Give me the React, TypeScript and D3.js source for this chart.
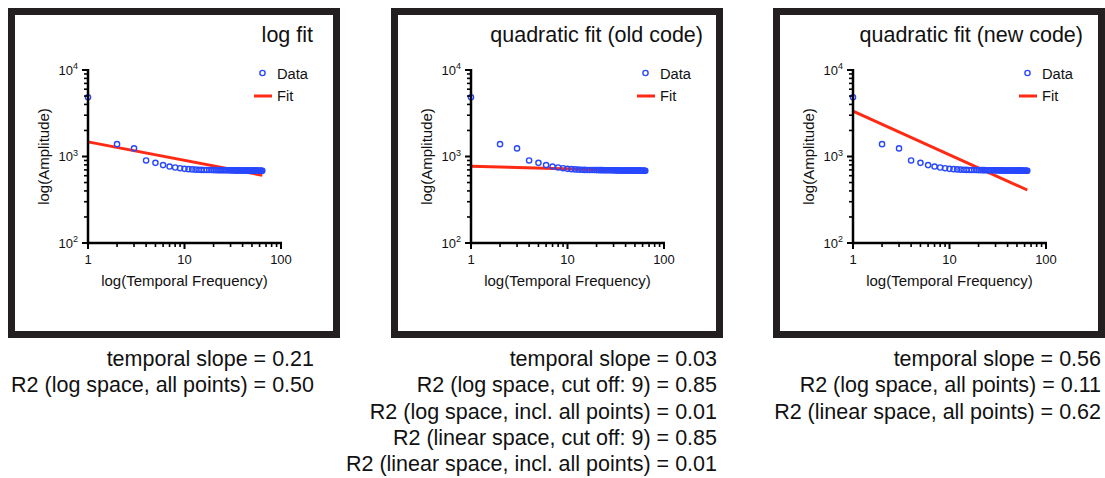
import React from "react";
import * as d3 from "d3";

const frequencies = [
  1, 2, 3, 4, 5, 6, 7, 8, 9, 10, 11, 12, 13, 14, 15, 16, 17, 18, 19, 20, 21, 22, 23, 24, 25, 26, 27, 28, 29, 30, 31, 32,
  33, 34, 35, 36, 37, 38, 39, 40, 41, 42, 43, 44, 45, 46, 47, 48, 49, 50, 51, 52, 53, 54, 55, 56, 57, 58, 59, 60, 61, 62, 63, 64,
];
const amplitudes = [
  4850, 1390, 1240, 900, 845, 795, 765, 746, 732, 720,
  714, 709, 705, 702, 700, 699, 698, 697, 697, 696,
  696, 695, 695, 694, 694, 694, 693, 693, 693, 692,
  692, 692, 691, 691, 691, 690, 690, 690, 690, 689,
  689, 689, 689, 688, 688, 688, 688, 687, 687, 687,
  687, 686, 686, 686, 686, 686, 685, 685, 685, 685,
  685, 684, 684, 684,
];

const panelTitles = ["log fit", "quadratic fit (old code)", "quadratic fit (new code)"];
const fitStartFreq = [1, 1, 1];
const fitEndFreq = [64, 64, 64];
const fitStartAmp = [1476, 773, 3350];
const fitEndAmp = [607, 682, 410];

const statsText = [
  ["temporal slope = 0.21", "R2 (log space, all points) = 0.50"],
  [
    "temporal slope = 0.03",
    "R2 (log space, cut off: 9) = 0.85",
    "R2 (log space, incl. all points) = 0.01",
    "R2 (linear space, cut off: 9) = 0.85",
    "R2 (linear space, incl. all points) = 0.01",
  ],
  [
    "temporal slope = 0.56",
    "R2 (log space, all points) = 0.11",
    "R2 (linear space, all points) = 0.62",
  ],
];

const xMajorTicks = [1, 10, 100];
const xMinorTicks = [2, 3, 4, 5, 6, 7, 8, 9, 20, 30, 40, 50, 60, 70, 80, 90];
const yMajorTicks = [100, 1000, 10000];
const yMinorTicks = [200, 300, 400, 500, 600, 700, 800, 900, 2000, 3000, 4000, 5000, 6000, 7000, 8000, 9000];
const yTickExponents = ["2", "3", "4"];
const xTickLabels = ["1", "10", "100"];
const legendLabels = ["Data", "Fit"];

const W = 1105;
const H = 478;
const FONT = "'Liberation Sans', Arial, Helvetica, sans-serif";
const BLUE = "#2848ff";
const RED = "#ff2a14";
const FRAME = "#231f20";

const panelLeft = [8, 391, 773];
const titleRight = [313, 703, 1083];
const statsRight = [314, 717, 1101];

function Panel({ idx }: { idx: number }) {
  const fx = panelLeft[idx];
  const axisX = fx + 80;
  const x = d3.scaleLog().domain([1, 100]).range([axisX, axisX + 193]);
  const y = d3.scaleLog().domain([100, 10000]).range([243, 70]);
  const fitData: [number, number][] = [
    [fitStartFreq[idx], fitStartAmp[idx]],
    [fitEndFreq[idx], fitEndAmp[idx]],
  ];
  const line = d3
    .line<[number, number]>()
    .x((d) => x(d[0]))
    .y((d) => y(d[1]));
  const y0 = y(100);
  const x0 = x(1);
  return (
    <g>
      <rect x={fx + 3.5} y={8 + 3.5} width={325} height={323} fill="#fff" stroke={FRAME} strokeWidth={7} />
      <text x={titleRight[idx]} y={42} textAnchor="end" fontSize={21.5} fontFamily={FONT} fill="#111">
        {panelTitles[idx]}
      </text>
      {/* fit line */}
      <path d={line(fitData) || ""} stroke={RED} strokeWidth={3} fill="none" />
      {/* data points */}
      {frequencies.map((f, i) => (
        <circle key={i} cx={x(f)} cy={y(amplitudes[i])} r={2.6} fill="none" stroke={BLUE} strokeWidth={1.4} />
      ))}
      {/* axes */}
      <line x1={x0} x2={x(100) + 1} y1={y0} y2={y0} stroke="#000" strokeWidth={2.5} />
      <line x1={x0} x2={x0} y1={y0 + 1.2} y2={y(10000) - 1} stroke="#000" strokeWidth={2.5} />
      {xMajorTicks.map((t) => (
        <line key={"xm" + t} x1={x(t)} x2={x(t)} y1={y0} y2={y0 + 6} stroke="#000" strokeWidth={2} />
      ))}
      {xMinorTicks.map((t) => (
        <line key={"xn" + t} x1={x(t)} x2={x(t)} y1={y0} y2={y0 + 4} stroke="#000" strokeWidth={1.6} />
      ))}
      {yMajorTicks.map((t) => (
        <line key={"ym" + t} x1={x0 - 6} x2={x0} y1={y(t)} y2={y(t)} stroke="#000" strokeWidth={2} />
      ))}
      {yMinorTicks.map((t) => (
        <line key={"yn" + t} x1={x0 - 4} x2={x0} y1={y(t)} y2={y(t)} stroke="#000" strokeWidth={1.6} />
      ))}
      {xMajorTicks.map((t, i) => (
        <text key={"xl" + t} x={x(t)} y={263.5} textAnchor="middle" fontSize={13} fontFamily={FONT} fill="#111">
          {xTickLabels[i]}
        </text>
      ))}
      {yMajorTicks.map((t, i) => (
        <text key={"yl" + t} x={x0 - 10} y={y(t) + 4.5} textAnchor="end" fontSize={13} fontFamily={FONT} fill="#111">
          <tspan>10</tspan>
          <tspan dy={-5.5} fontSize={9}>
            {yTickExponents[i]}
          </tspan>
        </text>
      ))}
      <text x={(x(1) + x(100)) / 2} y={286} textAnchor="middle" fontSize={15} fontFamily={FONT} fill="#111">
        log(Temporal Frequency)
      </text>
      <text
        transform={`translate(${fx + 40.5},${(y(100) + y(10000)) / 2}) rotate(-90)`}
        textAnchor="middle"
        fontSize={15}
        fontFamily={FONT}
        fill="#111"
      >
        log(Amplitude)
      </text>
      {/* legend */}
      <circle cx={fx + 254.5} cy={73} r={2.6} fill="none" stroke={BLUE} strokeWidth={1.4} />
      <text x={fx + 269} y={79} fontSize={14.7} fontFamily={FONT} fill="#111">
        {legendLabels[0]}
      </text>
      <line x1={fx + 246} x2={fx + 264} y1={96} y2={96} stroke={RED} strokeWidth={3} />
      <text x={fx + 269} y={101} fontSize={14.7} fontFamily={FONT} fill="#111">
        {legendLabels[1]}
      </text>
      {/* stats */}
      {statsText[idx].map((s, i) => (
        <text key={"st" + i} x={statsRight[idx]} y={366 + i * 26.3} textAnchor="end" fontSize={21.5} fontFamily={FONT} fill="#111">
          {s}
        </text>
      ))}
    </g>
  );
}

export default function App() {
  return (
    <svg
      width={W}
      height={H}
      viewBox={`0 0 ${W} ${H}`}
      style={{ position: "absolute", left: 0, top: 0, background: "#fff" }}
    >
      <rect x={0} y={0} width={W} height={H} fill="#fff" />
      {[0, 1, 2].map((i) => (
        <Panel key={i} idx={i} />
      ))}
    </svg>
  );
}
